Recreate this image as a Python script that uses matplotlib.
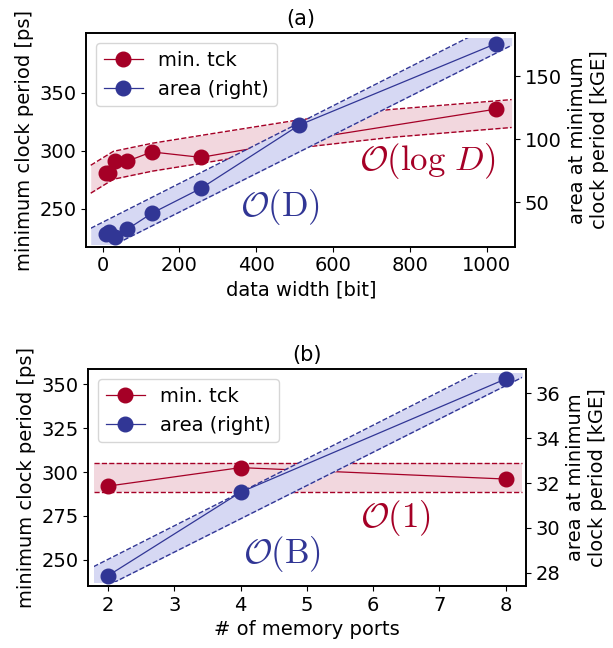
import matplotlib
matplotlib.use('Agg')
import matplotlib.pyplot as plt
from matplotlib.patches import Rectangle

plt.rcParams['font.family'] = ['DejaVu Sans']
plt.rcParams['mathtext.fontset'] = 'cm'
plt.rcParams['font.size'] = 14

red = '#a50026'
blue = '#313695'
red_fill = '#f2d7de'
blue_fill = '#d6d8f3'

# (a) data width sweep
width_bits = [8, 16, 32, 64, 128, 256, 512, 1024]
tck_a = [280.5, 281.0, 291.5, 291.0, 299.0, 294.3, 309.0, 335.8]
area_a = [24.5, 26.7, 22.3, 28.5, 41.2, 61.0, 111.2, 175.8]

# O(log D) band (upper edge, constant width)
log_x = [-31, 28, 130, 300, 510, 750, 1065]
log_hi = [287.5, 299.5, 306.5, 315.5, 326.5, 335.5, 344.0]
log_lo = [263.5, 275.5, 282.5, 291.5, 302.5, 311.5, 320.0]

# O(D) band edges and clip box
lin_x = [-31, 1065]
lin_hi = [29.3, 198.1]
lin_lo = [6.8, 174.5]
lin_clip = (17.0, 180.5)

# (b) memory port sweep
ports = [2, 4, 8]
tck_b = [292.0, 302.5, 296.0]
area_b = [27.87, 31.59, 36.64]

const_x = [1.78, 8.25]
const_hi = [305.3, 305.3]
const_lo = [288.8, 288.8]

portlin_x = [1.78, 8.25]
portlin_hi = [28.27, 37.94]
portlin_lo = [27.11, 36.71]
portlin_clip = (27.57, 36.89)


def band(ax, x, lo, hi, fc, ec, clip=None):
    arts = [ax.fill_between(x, lo, hi, color=fc, lw=0)]
    arts += ax.plot(x, hi, '--', color=ec, lw=1)
    arts += ax.plot(x, lo, '--', color=ec, lw=1)
    if clip is not None:
        rect = Rectangle((x[0], clip[0]), x[-1] - x[0], clip[1] - clip[0],
                         transform=ax.transData)
        for a in arts:
            a.set_clip_path(rect)


def panel(rect, title, xlabel, x, tck, area, b_red, b_blue, ylim, y2lim, xlim,
          yticks, y2ticks, xticks, txt_red, txt_blue):
    ax = fig.add_axes(rect)
    ax2 = ax.twinx()
    band(ax, *b_red, red_fill, red)
    band(ax2, *b_blue[:3], blue_fill, blue, clip=b_blue[3])
    l1, = ax.plot(x, tck, '-o', color=red, lw=0.9, ms=10.5, label='min. tck')
    l2, = ax2.plot(x, area, '-o', color=blue, lw=0.9, ms=10.5, label='area (right)')
    ax.set_xlim(*xlim)
    ax.set_ylim(*ylim)
    ax2.set_ylim(*y2lim)
    ax.set_xticks(xticks)
    ax.set_yticks(yticks)
    ax2.set_yticks(y2ticks)
    ax.set_title(title, fontsize=15)
    ax.set_xlabel(xlabel)
    ax.set_ylabel('minimum clock period [ps]')
    ax2.set_ylabel('area at minimum\nclock period [kGE]')
    for s in list(ax.spines.values()) + list(ax2.spines.values()):
        s.set_linewidth(1.2)
    ax.text(*txt_red[:2], txt_red[2], color=red, fontsize=25, ha='center', va='center')
    ax.text(*txt_blue[:2], txt_blue[2], color=blue, fontsize=25, ha='center', va='center')
    ax2.legend([l1, l2], ['min. tck', 'area (right)'], loc='upper left', fontsize=14)
    return ax, ax2


fig = plt.figure(figsize=(6.13, 6.48), dpi=100)

panel([0.1411, 0.6193, 0.6992, 0.3293], '(a)', 'data width [bit]',
      width_bits, tck_a, area_a,
      (log_x, log_lo, log_hi), (lin_x, lin_lo, lin_hi, lin_clip),
      (217.5, 401), (14.7, 184), (-42, 1074),
      [250, 300, 350], [50, 100, 150], [0, 200, 400, 600, 800, 1000],
      (846, 291.4, r'$\mathcal{O}(\log\, D)$'), (461, 252, r'$\mathcal{O}(\mathrm{D})$'))

panel([0.1439, 0.0957, 0.7134, 0.3344], '(b)', '# of memory ports',
      ports, tck_b, area_b,
      (const_x, const_lo, const_hi), (portlin_x, portlin_lo, portlin_hi, portlin_clip),
      (235.2, 358.4), (27.41, 37.07), (1.7, 8.3),
      [250, 275, 300, 325, 350], [28, 30, 32, 34, 36], [2, 3, 4, 5, 6, 7, 8],
      (6.34, 273.9, r'$\mathcal{O}(1)$'), (4.63, 253.4, r'$\mathcal{O}(\mathrm{B})$'))

fig.savefig('out.png', dpi=100)
